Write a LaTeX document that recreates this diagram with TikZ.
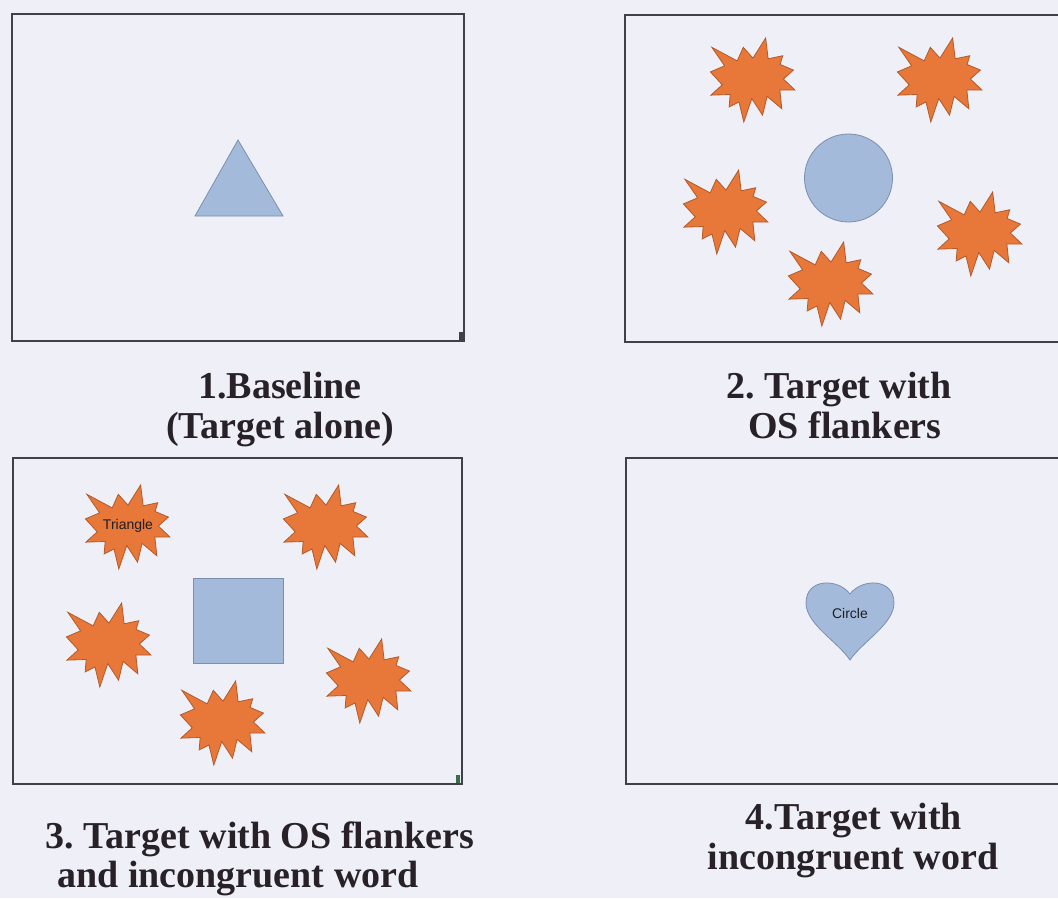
\documentclass[tikz,border=0pt]{standalone}
\usepackage{fontspec}
\setmainfont{Liberation Serif}
\newfontfamily\labelsans{Liberation Sans}
\frenchspacing
\definecolor{pagebg}{RGB}{239,239,247}
\definecolor{boxgray}{RGB}{64,64,72}
\definecolor{targetblue}{RGB}{163,186,218}
\definecolor{targetedge}{RGB}{122,143,176}
\definecolor{burstorange}{RGB}{232,119,58}
\definecolor{burstedge}{RGB}{177,90,42}
\definecolor{captiontext}{RGB}{40,34,40}
\definecolor{wordtext}{RGB}{30,30,36}
\definecolor{markgreen}{RGB}{60,110,70}
\tikzset{
  panel/.style={draw=boxgray, line width=1.6pt},
  target/.style={fill=targetblue, draw=targetedge, line width=0.8pt},
  flanker/.style={fill=burstorange, draw=burstedge, line width=0.8pt, line join=miter},
  caption/.style={font=\bfseries\fontsize{38}{40}\selectfont, anchor=base, inner sep=0pt, text=captiontext},
  word/.style={font=\labelsans\fontsize{14}{16}\selectfont, text=wordtext, inner sep=0pt}
}
\newcommand\burstshape[2]{%
  \draw[flanker, shift={(#1,#2)}, x=0.85pt, y=-0.84pt]
    (50.54,23.94) -- (39.16,11.11) -- (31.99,27.21) -- (2.20,11.11) --
    (17.20,33.11) -- (0.49,40.36) -- (14.38,55.75) -- (1.13,68.0) --
    (23.73,67.25) -- (22.54,82.03) -- (34.13,76.24) -- (39.77,100) --
    (49.14,72.06) -- (61.8,91.85) -- (67.20,69.52) -- (84.48,84.24) --
    (82.18,61.95) -- (100,62.0) -- (86.29,48.83) -- (98.14,38.16) --
    (82.48,31.49) -- (85.56,21.11) -- (68.4,24.73) -- (65.46,0) -- cycle;%
}
\begin{document}
\begin{tikzpicture}[x=1pt, y=-1pt]
  \useasboundingbox (0,0) rectangle (1058,898);
  \clip (0,0) rectangle (1058,898);
  \fill[pagebg] (0,0) rectangle (1058,898);

  % panel 1: baseline
  \draw[panel] (12,14) rectangle (464,341);
  \draw[target] (238,140) -- (283,216) -- (195,216) -- cycle;
  \fill[boxgray] (459,332) rectangle (463,340);

  % panel 2: target with OS flankers
  \draw[panel] (625,15) rectangle (1070,342);
  \draw[target] (848.5,178) circle (44);
  \burstshape{710}{38}
  \burstshape{897}{38}
  \burstshape{683}{170}
  \burstshape{937}{192}
  \burstshape{788}{242}

  % panel 3: target with OS flankers and incongruent word
  \draw[panel] (13,458) rectangle (462,784);
  \draw[target] (193,578) rectangle (283,663);
  \burstshape{85}{485}
  \burstshape{283}{485}
  \burstshape{66}{603}
  \burstshape{326}{639}
  \burstshape{180}{681}
  \node[word] (w3) at (128,526) {Triangle};
  \fill[markgreen] (456,775) rectangle (460,783);

  % panel 4: target with incongruent word
  \draw[panel] (626,458) rectangle (1070,784);
  \draw[target] (850,594) .. controls (862,578) and (894,578) .. (894,603)
     .. controls (894,624) and (862,642) .. (850,660)
     .. controls (838,642) and (806,624) .. (806,603)
     .. controls (806,578) and (838,578) .. (850,594) -- cycle;
  \node[word] (w4) at (850,613) {Circle};

  % captions
  \node[caption] (c1a) at (280,398) {1.Baseline};
  \node[caption] (c1b) at (280,438) {(Target alone)};
  \node[caption] (c2a) at (839,398) {2. Target with};
  \node[caption] (c2b) at (845,438) {OS flankers};
  \node[caption] (c3a) at (260,848) {3. Target with OS flankers};
  \node[caption] (c3b) at (238,887) {and incongruent word};
  \node[caption] (c4a) at (854,829) {4.Target with};
  \node[caption] (c4b) at (853,869) {incongruent word};
\end{tikzpicture}
\end{document}
